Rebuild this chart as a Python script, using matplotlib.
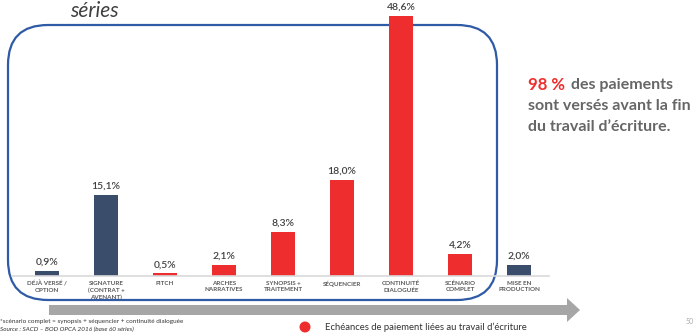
import matplotlib.pyplot as plt
import numpy as np
from matplotlib.patches import FancyBboxPatch, Polygon, Circle

plt.rcParams['font.family'] = ['Lato', 'DejaVu Sans']

categories = ['DÉJÀ VERSÉ /\nOPTION', 'SIGNATURE\n(CONTRAT +\nAVENANT)', 'PITCH',
              'ARCHES\nNARRATIVES', 'SYNOPSIS +\nTRAITEMENT', 'SÉQUENCIER',
              'CONTINUITÉ\nDIALOGUÉE', 'SCÉNARIO\nCOMPLET', 'MISE EN\nPRODUCTION']
values = [0.9, 15.1, 0.5, 2.1, 8.3, 18.0, 48.6, 4.2, 2.0]
writing = [False, False, True, True, True, True, True, True, False]

red = '#EE2E2E'
navy = '#3A4D6A'
colors = [red if w else navy for w in writing]

fig = plt.figure(figsize=(7, 3.33), dpi=100)

# background layer in pixel coordinates
bg = fig.add_axes([0, 0, 1, 1], zorder=0)
bg.set_xlim(0, 700)
bg.set_ylim(333, 0)
bg.axis('off')

box = FancyBboxPatch((8, 25), 489, 275, boxstyle='round,pad=0,rounding_size=40',
                     fill=False, ec='#2E5AA6', lw=1.6)
bg.add_patch(box)

arrow = Polygon([(49, 305), (567, 305), (567, 298), (580, 310),
                 (567, 322), (567, 315), (49, 315)], closed=True,
                fc='#A6A6A6', ec='none')
bg.add_patch(arrow)
bg.add_patch(Circle((305, 327), 5.5, fc=red, ec='none'))

bg.text(70, 11, 'séries', fontsize=15, style='italic', color='#404040',
        va='center', ha='left')
bg.text(325, 327, "Echéances de paiement liées au travail d’écriture",
        fontsize=6.8, color='#333333', va='center', ha='left')
bg.text(0, 321, '*scénario complet = synopsis + séquencier + continuité dialoguée',
        fontsize=4.6, color='#333333', va='center', ha='left')
bg.text(0, 329, 'Source : SACD – BOD OPCA 2016 (base 60 séries)',
        fontsize=4.6, color='#333333', va='center', ha='left', style='italic')
bg.text(690, 322, '50', fontsize=5, color='#AAAAAA', va='center', ha='center')

bg.text(528, 85, '98 %', fontsize=12, fontweight='bold', color=red,
        va='center', ha='left')
bg.text(571, 85, 'des paiements', fontsize=11.5, fontweight='bold',
        color='#666666', va='center', ha='left')
bg.text(528, 106, 'sont versés avant la fin', fontsize=11.5, fontweight='bold',
        color='#666666', va='center', ha='left')
bg.text(528, 127, 'du travail d’écriture.', fontsize=11.5, fontweight='bold',
        color='#666666', va='center', ha='left')

# bar chart
ax = fig.add_axes([17.5 / 700, 57 / 333, 531 / 700, 267.5 / 333], zorder=1)
ax.patch.set_alpha(0)
x = np.arange(len(values))
ax.bar(x, values, width=0.41, color=colors)
ax.set_xlim(-0.5, 8.5)
ax.set_ylim(0, 50)
ax.axhline(0, color='#D9D9D9', lw=1.2, xmin=-0.01, xmax=1.0, clip_on=False)
for xi, v in zip(x, values):
    ax.annotate(('%.1f%%' % v).replace('.', ','), (xi, v), xytext=(0, 3),
                textcoords='offset points', ha='center', va='bottom',
                fontsize=7.5, fontweight='semibold', color='#404040')
ax.set_xticks(x)
ax.set_xticklabels(categories, fontsize=4.5, fontweight='bold', color='#5A5A5A',
                   linespacing=1.35, va='top')
ax.tick_params(axis='x', length=0, pad=3.5)
ax.set_yticks([])
for s in ax.spines.values():
    s.set_visible(False)

fig.savefig('out.png', dpi=100)
